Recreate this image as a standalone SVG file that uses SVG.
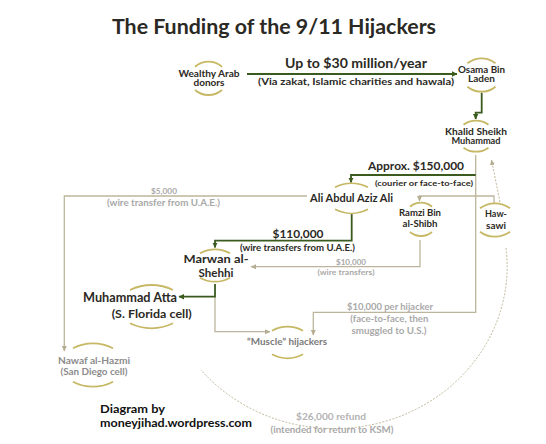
<svg xmlns="http://www.w3.org/2000/svg" width="546" height="444" viewBox="0 0 546 444">
<defs>
<marker id="ag" markerWidth="6" markerHeight="6" refX="5" refY="3" orient="auto" markerUnits="userSpaceOnUse"><path d="M0,0.3 L5.5,3 L0,5.7 Z" fill="#3b5a1e"/></marker>
<marker id="at" markerWidth="6" markerHeight="6" refX="5" refY="3" orient="auto" markerUnits="userSpaceOnUse"><path d="M0,0.5 L5.5,3 L0,5.5 Z" fill="#b5ad92"/></marker>
<style>
text{font-family:Lato,"Liberation Sans",sans-serif;font-weight:bold;text-anchor:middle}
.t{fill:#2b2924}
.g{fill:#a9a9a9}
.arc{fill:none;stroke:#c6b864;stroke-width:1.8}
.cg{fill:none;stroke:#3b5a1e;stroke-width:1.8}
.ct{fill:none;stroke:#bdb59b;stroke-width:1.3}
.cd{fill:none;stroke:#b8b08f;stroke-width:0.9;stroke-dasharray:2 1.5}
</style>
</defs>
<rect width="546" height="444" fill="#fff"/>
<text x="274" y="34" class="t" font-size="20.5" textLength="324" lengthAdjust="spacingAndGlyphs">The Funding of the 9/11 Hijackers</text>

<g id="connectors">
<path class="cd" d="M506,248 A173 162 0 0 1 201,370"/>
<path class="cd" d="M500,202 L491.5,160" marker-end="url(#at)"/>
<path class="ct" d="M475.7,155 V312.3 H313.3 V335" marker-end="url(#at)"/>
<path class="ct" d="M494,203 V196 H419.5 V201" marker-end="url(#at)"/>
<path class="ct" d="M420,240 V266.7 H251" marker-end="url(#at)"/>
<path class="ct" d="M307,196 H64.3 V351" marker-end="url(#at)"/>
<path class="ct" d="M215,296.7 V331.7 H270" marker-end="url(#at)"/>
<path class="cg" d="M247,74 H457" marker-end="url(#ag)"/>
<path class="cg" d="M481.7,92.7 V112.7 H475.7 V119" marker-end="url(#ag)"/>
<path class="cg" d="M475.7,175 H351 V182.5" marker-end="url(#ag)"/>
<path class="cg" d="M351.7,214 V240.7 H215 V247.5" marker-end="url(#ag)"/>
<path class="cg" d="M215,284 V296.7 H179" marker-end="url(#ag)"/>
</g>

<g id="wealthy">
<path class="arc" d="M195,66.7 A20.7 20.7 0 0 1 222,66.7"/>
<path class="arc" d="M195,90 A20.7 20.7 0 0 0 222,90"/>
<text x="209" y="76.5" class="t" font-size="9.5" textLength="61" lengthAdjust="spacingAndGlyphs">Wealthy Arab</text>
<text x="209" y="86" class="t" font-size="9.5" textLength="31" lengthAdjust="spacingAndGlyphs">donors</text>
</g>
<g id="label-30m">
<text x="356" y="68" class="t" font-size="13" textLength="142" lengthAdjust="spacingAndGlyphs">Up to $30 million/year</text>
<text x="356" y="85" class="t" font-size="9" textLength="196" lengthAdjust="spacingAndGlyphs">(Via zakat, Islamic charities and hawala)</text>
</g>
<g id="osama">
<path class="arc" d="M467.5,63.3 A22.1 22.1 0 0 1 495.5,63.3"/>
<path class="arc" d="M467.5,86.7 A22.1 22.1 0 0 0 495.5,86.7"/>
<text x="481.5" y="72.5" class="t" font-size="9" textLength="47" lengthAdjust="spacingAndGlyphs">Osama Bin</text>
<text x="481.5" y="82" class="t" font-size="9" textLength="27" lengthAdjust="spacingAndGlyphs">Laden</text>
</g>
<g id="ksm">
<path class="arc" d="M463.5,124.7 A21.5 21.5 0 0 1 488.5,124.7"/>
<path class="arc" d="M463.5,147.7 A21.5 21.5 0 0 0 488.5,147.7"/>
<text x="476" y="134.5" class="t" font-size="9.5" textLength="62" lengthAdjust="spacingAndGlyphs">Khalid Sheikh</text>
<text x="476" y="144" class="t" font-size="9.5" textLength="49" lengthAdjust="spacingAndGlyphs">Muhammad</text>
</g>
<g id="label-150k">
<text x="416" y="170" class="t" font-size="12" textLength="96" lengthAdjust="spacingAndGlyphs">Approx. $150,000</text>
<text x="424" y="185.5" class="t" font-size="8.3" textLength="98" lengthAdjust="spacingAndGlyphs">(courier or face-to-face)</text>
</g>
<g id="ali">
<path class="arc" d="M335,187.3 A36 36 0 0 1 368,187.3"/>
<path class="arc" d="M335,209.3 A36 36 0 0 0 368,209.3"/>
<text x="351.5" y="202" class="t" font-size="10.5" textLength="83" lengthAdjust="spacingAndGlyphs">Ali Abdul Aziz Ali</text>
</g>
<g id="label-5k">
<text x="164" y="194" class="g" font-size="7.2" textLength="26" lengthAdjust="spacingAndGlyphs">$5,000</text>
<text x="163.5" y="206" class="g" font-size="8.8" textLength="113" lengthAdjust="spacingAndGlyphs">(wire transfer from U.A.E.)</text>
</g>
<g id="ramzi">
<path class="arc" d="M410,206.7 A17.1 17.1 0 0 1 432,206.7"/>
<path class="arc" d="M410,232 A17.1 17.1 0 0 0 432,232"/>
<text x="420" y="216" class="t" font-size="9.3" textLength="42" lengthAdjust="spacingAndGlyphs">Ramzi Bin</text>
<text x="420" y="227" class="t" font-size="9.3" textLength="35" lengthAdjust="spacingAndGlyphs">al-Shibh</text>
</g>
<g id="hawsawi">
<path class="arc" d="M480,208.3 A25 25 0 0 1 510,208.3"/>
<path class="arc" d="M480,231.7 A25 25 0 0 0 510,231.7"/>
<text x="496" y="217" class="t" font-size="9.5" textLength="22" lengthAdjust="spacingAndGlyphs">Haw-</text>
<text x="496" y="229" class="t" font-size="9.5" textLength="20" lengthAdjust="spacingAndGlyphs">sawi</text>
</g>
<g id="label-110k">
<text x="298" y="238" class="t" font-size="12" textLength="51" lengthAdjust="spacingAndGlyphs">$110,000</text>
<text x="297.5" y="251" class="t" font-size="8.8" textLength="115" lengthAdjust="spacingAndGlyphs">(wire transfers from U.A.E.)</text>
</g>
<g id="marwan">
<path class="arc" d="M200,253.3 A30.1 30.1 0 0 1 230,253.3"/>
<path class="arc" d="M200,277.7 A30.1 30.1 0 0 0 230,277.7"/>
<text x="216" y="262.5" class="t" font-size="12" textLength="65" lengthAdjust="spacingAndGlyphs">Marwan al-</text>
<text x="216" y="276.5" class="t" font-size="12" textLength="35" lengthAdjust="spacingAndGlyphs">Shehhi</text>
</g>
<g id="label-10k">
<text x="351" y="265" class="g" font-size="7.5" textLength="30" lengthAdjust="spacingAndGlyphs">$10,000</text>
<text x="346" y="275" class="g" font-size="8.3" textLength="57" lengthAdjust="spacingAndGlyphs">(wire transfers)</text>
</g>
<g id="atta">
<path class="arc" d="M130,290 A48.7 48.7 0 0 1 173,290"/>
<path class="arc" d="M130,323.3 A48.7 48.7 0 0 0 173,323.3"/>
<text x="130" y="302" class="t" font-size="13" textLength="94" lengthAdjust="spacingAndGlyphs">Muhammad Atta</text>
<text x="151.7" y="317.5" class="t" font-size="11.5" textLength="80" lengthAdjust="spacingAndGlyphs">(S. Florida cell)</text>
</g>
<g id="label-per-hijacker">
<text x="390" y="310" class="g" font-size="9.3" textLength="86" lengthAdjust="spacingAndGlyphs">$10,000 per hijacker</text>
<text x="389.3" y="322" class="g" font-size="8.8" textLength="78" lengthAdjust="spacingAndGlyphs">(face-to-face, then</text>
<text x="389" y="334" class="g" font-size="8.8" textLength="75" lengthAdjust="spacingAndGlyphs">smuggled to U.S.)</text>
</g>
<g id="muscle">
<path class="arc" d="M272,330.7 A32 32 0 0 1 303,330.7"/>
<path class="arc" d="M272,354.3 A32 32 0 0 0 303,354.3"/>
<text x="287" y="345" font-size="9.8" fill="#7a7a7a" textLength="80" lengthAdjust="spacingAndGlyphs">“Muscle” hijackers</text>
</g>
<g id="nawaf">
<path class="arc" d="M73,348.3 A42.5 42.5 0 0 1 113,348.3"/>
<path class="arc" d="M73,381.7 A42.5 42.5 0 0 0 113,381.7"/>
<text x="94" y="363.5" font-size="9.8" fill="#8c8c8c" textLength="72" lengthAdjust="spacingAndGlyphs">Nawaf al-Hazmi</text>
<text x="94" y="374.5" font-size="8.8" fill="#8c8c8c" textLength="67" lengthAdjust="spacingAndGlyphs">(San Diego cell)</text>
</g>
<g id="label-refund">
<text x="331" y="419.5" font-size="9.8" fill="#b3b3b3" textLength="70" lengthAdjust="spacingAndGlyphs">$26,000 refund</text>
<text x="332" y="433" class="g" font-size="8.8" textLength="123" lengthAdjust="spacingAndGlyphs">(intended for return to KSM)</text>
</g>
<g id="credit">
<text x="100" y="413" font-size="12" fill="#111" style="text-anchor:start" textLength="65" lengthAdjust="spacingAndGlyphs">Diagram by</text>
<text x="100" y="427" font-size="12" fill="#111" style="text-anchor:start" textLength="152" lengthAdjust="spacingAndGlyphs">moneyjihad.wordpress.com</text>
</g>
</svg>
